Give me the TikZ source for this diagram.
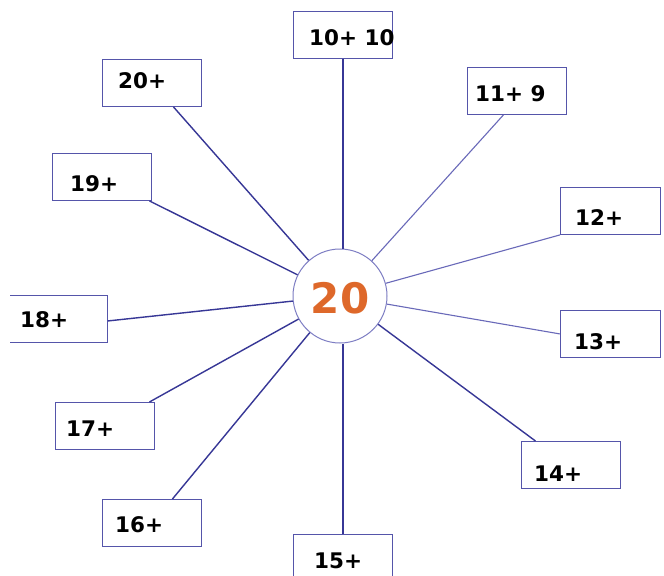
\documentclass[tikz,border=0pt]{standalone}
\usepackage{fontspec}
\setmainfont{DejaVu Sans}
\definecolor{boxc}{RGB}{85,85,170}
\definecolor{lined}{RGB}{55,55,150}
\definecolor{linel}{RGB}{105,105,185}
\definecolor{circc}{RGB}{125,125,195}
\definecolor{numc}{RGB}{222,104,42}
\begin{document}
\begin{tikzpicture}[x=1bp,y=-1bp,
  boxn/.style={draw=boxc,line width=0.9bp,minimum width=99bp,minimum height=47bp,inner sep=0pt,anchor=north west},
  lab/.style={anchor=base west,inner sep=0pt,font=\fontsize{21.5bp}{24bp}\selectfont\bfseries},
  cn/.style={line width=1.4bp,draw=lined},
  cl/.style={line width=1.1bp,draw=linel}]
\useasboundingbox (0,0) rectangle (664,576);
\fill[white] (0,0) rectangle (664,576);
% boxes
\node[boxn] (b10) at (293,11) {};
\node[boxn] (b20) at (102,59) {};
\node[boxn] (b19) at (52,153) {};
\node[boxn,draw=none,minimum width=97bp] (b18) at (10,295) {};
\draw[boxc,line width=0.9bp] (b18.north west) -- (b18.north east) -- (b18.south east) -- (b18.south west);
\node[boxn] (b17) at (55,402) {};
\node[boxn] (b16) at (102,499) {};
\node[boxn] (b15) at (293,534) {};
\node[boxn] (b14) at (521,441) {};
\node[boxn,minimum width=100bp] (b13) at (560,310) {};
\node[boxn,minimum width=100bp] (b12) at (560,187) {};
\node[boxn] (b11) at (467,67) {};
% circle
\node[circle,draw=circc,line width=1bp,minimum size=94bp,inner sep=0pt,fill=white] (c) at (340,296) {};
\node[anchor=base,inner sep=0pt,text=numc,font=\fontsize{42bp}{46bp}\selectfont\bfseries] (n) at (340,313) {20};
% connectors
\draw[cn] (b10.south) -- (b10.south |- c.north);
\draw[cn] (c) -- ([xshift=21.5bp]b20.south);
\draw[cn] (c) -- ([xshift=47.5bp]b19.south);
\draw[cn] (c) -- ([yshift=-2bp]b18.east);
\draw[cn] (c) -- ([xshift=44.5bp]b17.north);
\draw[cn] (c) -- ([xshift=20.5bp]b16.north);
\draw[cn] (b15.north) -- (b15.north |- c.south);
\draw[cn] (c) -- ([xshift=-35.5bp]b14.north);
\draw[cl] (c) -- (b13.west);
\draw[cl] (c) -- (b12.south west);
\draw[cl] (c) -- ([xshift=-13.5bp]b11.south);
% labels
\node[lab] (t10) at (309,46) {10+ 10};
\node[lab] (t20) at (118,89) {20+};
\node[lab] (t19) at (70,192) {19+};
\node[lab] (t18) at (20,327) {18+};
\node[lab] (t17) at (66,436) {17+};
\node[lab] (t16) at (115,532) {16+};
\node[lab] (t15) at (314,568) {15+};
\node[lab] (t14) at (534,481) {14+};
\node[lab] (t13) at (574,349) {13+};
\node[lab] (t12) at (575,225) {12+};
\node[lab] (t11) at (475,102) {11+ 9};
\end{tikzpicture}
\end{document}
